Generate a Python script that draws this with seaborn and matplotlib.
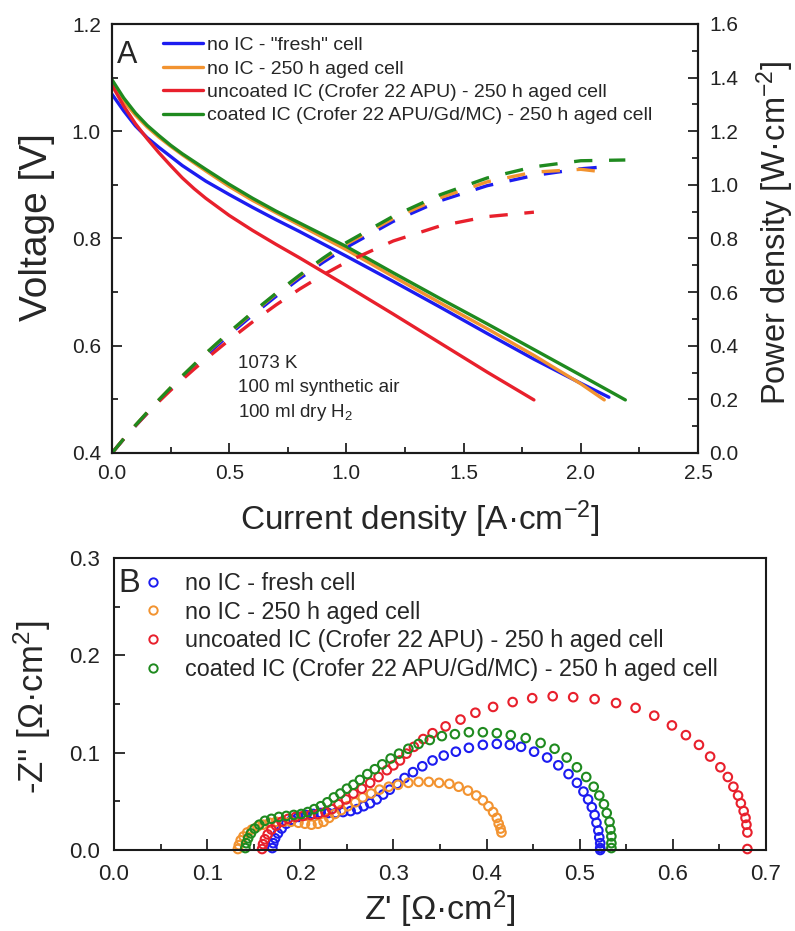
import numpy as np
import pandas as pd
import matplotlib
matplotlib.use("Agg")
import matplotlib.pyplot as plt
from matplotlib.lines import Line2D
from matplotlib.ticker import MultipleLocator, FormatStrFormatter
import seaborn as sns

sns.set_theme(style="white")
plt.rcParams["font.family"] = ["Liberation Sans", "DejaVu Sans"]
plt.rcParams["mathtext.fontset"] = "custom"
plt.rcParams["mathtext.rm"] = "Liberation Sans"
plt.rcParams["mathtext.it"] = "Liberation Sans:italic"
plt.rcParams["mathtext.bf"] = "Liberation Sans:bold"

# ---------------- data: I-V characteristics (panel A) ----------------
iv_labels = ['no IC - "fresh" cell',
             'no IC - 250 h aged cell',
             'uncoated IC (Crofer 22 APU) - 250 h aged cell',
             'coated IC (Crofer 22 APU/Gd/MC) - 250 h aged cell']
colors = ["#1c1cf0", "#f29330", "#e8202c", "#1f8a1f"]

j_fresh = [0, 0.05, 0.1, 0.15, 0.2, 0.3, 0.4, 0.5, 0.6, 0.7, 0.8, 0.9, 1.0,
           1.2, 1.4, 1.6, 1.8, 2.0, 2.12]
v_fresh = [1.069, 1.038, 1.010, 0.988, 0.970, 0.936, 0.907, 0.882, 0.858,
           0.835, 0.813, 0.790, 0.767, 0.720, 0.672, 0.623, 0.575, 0.530, 0.504]

j_aged = [0, 0.05, 0.1, 0.15, 0.2, 0.25, 0.3, 0.4, 0.5, 0.6, 0.7, 0.8, 0.9,
          1.0, 1.2, 1.4, 1.6, 1.8, 2.0, 2.1]
v_aged = [1.086, 1.056, 1.030, 1.008, 0.989, 0.972, 0.956, 0.926, 0.897,
          0.871, 0.848, 0.825, 0.802, 0.779, 0.729, 0.680, 0.632, 0.582,
          0.529, 0.499]

j_uncoated = [0, 0.05, 0.1, 0.15, 0.2, 0.25, 0.3, 0.35, 0.4, 0.5, 0.6, 0.7,
              0.8, 0.9, 1.0, 1.2, 1.4, 1.6, 1.8]
v_uncoated = [1.086, 1.047, 1.014, 0.986, 0.960, 0.936, 0.913, 0.893, 0.875,
              0.843, 0.815, 0.789, 0.764, 0.738, 0.712, 0.659, 0.605, 0.551, 0.499]

j_coated = [0, 0.05, 0.1, 0.15, 0.2, 0.25, 0.3, 0.4, 0.5, 0.6, 0.7, 0.8, 0.9,
            1.0, 1.2, 1.4, 1.6, 1.8, 2.0, 2.19]
v_coated = [1.096, 1.062, 1.034, 1.011, 0.992, 0.974, 0.958, 0.929, 0.901,
            0.875, 0.851, 0.829, 0.807, 0.785, 0.736, 0.688, 0.641, 0.593,
            0.545, 0.499]

iv_sets = [(j_fresh, v_fresh), (j_aged, v_aged),
           (j_uncoated, v_uncoated), (j_coated, v_coated)]

# ---------------- data: impedance spectra (panel B) ----------------
eis_labels = ['no IC - fresh cell',
              'no IC - 250 h aged cell',
              'uncoated IC (Crofer 22 APU) - 250 h aged cell',
              'coated IC (Crofer 22 APU/Gd/MC) - 250 h aged cell']

zre_fresh = [0.170, 0.171, 0.173, 0.176, 0.180, 0.185, 0.191, 0.198, 0.206,
             0.214, 0.222, 0.230, 0.238, 0.246, 0.254, 0.261, 0.268, 0.275,
             0.282, 0.289, 0.296, 0.304, 0.312, 0.321, 0.331, 0.342, 0.354,
             0.367, 0.381, 0.396, 0.411, 0.425, 0.437, 0.451, 0.465, 0.477,
             0.488, 0.497, 0.504, 0.509, 0.513, 0.516, 0.518, 0.520, 0.521,
             0.522, 0.522, 0.522]
zim_fresh = [0.002, 0.007, 0.012, 0.017, 0.022, 0.027, 0.031, 0.034, 0.036,
             0.037, 0.038, 0.038, 0.038, 0.039, 0.040, 0.042, 0.045, 0.048,
             0.052, 0.057, 0.062, 0.068, 0.074, 0.080, 0.086, 0.092, 0.097,
             0.101, 0.105, 0.108, 0.109, 0.108, 0.106, 0.101, 0.095, 0.087,
             0.078, 0.069, 0.060, 0.052, 0.044, 0.036, 0.028, 0.020, 0.013,
             0.007, 0.002, 0.000]

zre_aged = [0.133, 0.134, 0.136, 0.139, 0.143, 0.148, 0.154, 0.160, 0.167,
            0.174, 0.182, 0.190, 0.198, 0.205, 0.212, 0.219, 0.225, 0.231,
            0.237, 0.244, 0.251, 0.259, 0.267, 0.276, 0.285, 0.295, 0.305,
            0.316, 0.327, 0.338, 0.349, 0.360, 0.370, 0.380, 0.389, 0.396,
            0.402, 0.407, 0.411, 0.413, 0.415, 0.416]
zim_aged = [0.001, 0.005, 0.010, 0.014, 0.018, 0.021, 0.024, 0.026, 0.028,
            0.029, 0.029, 0.029, 0.028, 0.027, 0.026, 0.027, 0.029, 0.033,
            0.037, 0.041, 0.045, 0.049, 0.054, 0.058, 0.062, 0.065, 0.067,
            0.069, 0.070, 0.070, 0.069, 0.068, 0.065, 0.061, 0.056, 0.051,
            0.045, 0.039, 0.033, 0.027, 0.022, 0.018]

zre_uncoated = [0.159, 0.160, 0.162, 0.165, 0.169, 0.174, 0.180, 0.187, 0.195,
                0.203, 0.211, 0.219, 0.227, 0.234, 0.241, 0.249, 0.257, 0.266,
                0.275, 0.284, 0.293, 0.300, 0.307, 0.314, 0.322, 0.332, 0.342,
                0.356, 0.372, 0.388, 0.407, 0.428, 0.449, 0.471, 0.493, 0.516,
                0.539, 0.560, 0.580, 0.599, 0.614, 0.628, 0.640, 0.651, 0.659,
                0.665, 0.670, 0.673, 0.676, 0.678, 0.679, 0.680, 0.680]
zim_uncoated = [0.001, 0.006, 0.011, 0.016, 0.021, 0.025, 0.029, 0.032, 0.034,
                0.035, 0.036, 0.037, 0.039, 0.042, 0.047, 0.052, 0.058, 0.063,
                0.069, 0.075, 0.082, 0.087, 0.092, 0.099, 0.106, 0.114, 0.120,
                0.127, 0.134, 0.141, 0.147, 0.152, 0.156, 0.158, 0.157, 0.155,
                0.151, 0.146, 0.138, 0.128, 0.118, 0.108, 0.096, 0.085, 0.075,
                0.065, 0.056, 0.048, 0.040, 0.033, 0.026, 0.018, 0.001]

zre_coated = [0.141, 0.142, 0.144, 0.147, 0.151, 0.156, 0.162, 0.169, 0.177,
              0.185, 0.193, 0.201, 0.208, 0.215, 0.222, 0.229, 0.236, 0.243,
              0.250, 0.257, 0.264, 0.272, 0.280, 0.288, 0.297, 0.306, 0.316,
              0.327, 0.339, 0.352, 0.366, 0.381, 0.396, 0.411, 0.426, 0.442,
              0.458, 0.473, 0.486, 0.497, 0.507, 0.515, 0.521, 0.526, 0.529,
              0.532, 0.533, 0.534, 0.534, 0.534]
zim_coated = [0.002, 0.007, 0.012, 0.017, 0.022, 0.026, 0.030, 0.032, 0.034,
              0.035, 0.036, 0.037, 0.039, 0.042, 0.045, 0.049, 0.054, 0.058,
              0.063, 0.067, 0.072, 0.078, 0.083, 0.088, 0.094, 0.099, 0.104,
              0.109, 0.113, 0.117, 0.119, 0.121, 0.121, 0.120, 0.118, 0.115,
              0.110, 0.104, 0.095, 0.085, 0.075, 0.065, 0.056, 0.047, 0.038,
              0.029, 0.021, 0.014, 0.007, 0.002]

eis_sets = [(zre_fresh, zim_fresh), (zre_aged, zim_aged),
            (zre_uncoated, zim_uncoated), (zre_coated, zim_coated)]

# ---------------- figure ----------------
W, H = 795, 931
fig = plt.figure(figsize=(W / 100, H / 100), dpi=100)
fig.patch.set_facecolor("white")


def px_axes(left, top, right, bottom):
    return fig.add_axes([left / W, 1 - bottom / H, (right - left) / W, (bottom - top) / H])


axA = px_axes(112, 24, 698, 453)
axA2 = axA.twinx()
axB = px_axes(114, 558, 766, 850)

# ---- panel A: voltage (solid) and power density (dashed) ----
for (j, v), c, lab in zip(iv_sets, colors, iv_labels):
    df = pd.DataFrame({"j": j, "V": v})
    df["P"] = df["j"] * df["V"]
    sns.lineplot(data=df, x="j", y="V", ax=axA, color=c, lw=2.4,
                 sort=False, estimator=None, legend=False)
    sns.lineplot(data=df, x="j", y="P", ax=axA2, color=c, lw=2.4,
                 linestyle=(0, (5.5, 5)), sort=False, estimator=None, legend=False)

axA.set_xlim(0, 2.5)
axA.set_ylim(0.4, 1.2)
axA2.set_ylim(0, 1.6)
axA.xaxis.set_major_locator(MultipleLocator(0.5))
axA.xaxis.set_minor_locator(MultipleLocator(0.25))
axA.yaxis.set_major_locator(MultipleLocator(0.2))
axA.yaxis.set_minor_locator(MultipleLocator(0.1))
axA2.yaxis.set_major_locator(MultipleLocator(0.2))
axA2.yaxis.set_minor_locator(MultipleLocator(0.1))
for a in (axA, axA2):
    a.xaxis.set_major_formatter(FormatStrFormatter("%.1f"))
    a.yaxis.set_major_formatter(FormatStrFormatter("%.1f"))

axA.tick_params(which="both", direction="in", bottom=True, left=True,
                top=False, right=False, colors="#222222", labelsize=15, pad=8)
axA.tick_params(which="major", length=7, width=1.3)
axA.tick_params(which="minor", length=4, width=1.3)
axA2.tick_params(which="both", direction="in", right=True, left=False,
                 bottom=False, top=False, labelsize=15, pad=8, colors="#222222")
axA2.tick_params(which="major", length=7, width=1.3)
axA2.tick_params(which="minor", length=4, width=1.3)

axA.set_xlabel("Current density [A·cm$\\mathregular{^{-2}}$]", fontsize=24, va="center")
axA.xaxis.set_label_coords((420 - 112) / 586, (453 - 519) / 429)
axA.set_ylabel("Voltage [V]", fontsize=28, va="center")
axA.yaxis.set_label_coords((37 - 112) / 586, 1 - (227 - 24) / 429)
axA2.set_ylabel("Power density [W·cm$\\mathregular{^{-2}}$]", fontsize=23.5, va="center")
axA2.yaxis.set_label_coords((775 - 112) / 586, 1 - (233 - 24) / 429)

axA.text(0.008, 1 - (63 - 24) / 429, "A", transform=axA.transAxes,
         fontsize=22, va="baseline", ha="left")
cond = ["1073 K", "100 ml synthetic air", "100 ml dry H$\\mathregular{_2}$"]
for k, t in enumerate(cond):
    axA.text((238 - 112) / 586, 1 - (368 + 24.5 * k - 24) / 429, t,
             transform=axA.transAxes, fontsize=13.5, va="baseline", ha="left")

handlesA = [Line2D([], [], color=c, lw=2.4) for c in colors]
legA = axA2.legend(handlesA, iv_labels, loc="upper left",
                   bbox_to_anchor=((163 - 112) / 586, 1 - (36.5 - 24) / 429),
                   frameon=False, fontsize=14, handlelength=2.06,
                   handletextpad=0.2, labelspacing=0.30, borderpad=0,
                   borderaxespad=0)

# ---- panel B: Nyquist plots ----
for (zr, zi), c in zip(eis_sets, colors):
    sns.scatterplot(x=zr, y=zi, ax=axB, color=c, s=38, marker="o",
                    linewidth=1.5, legend=False, clip_on=False)
    pts = axB.collections[-1]
    pts.set_facecolor("none")
    pts.set_edgecolor(c)

axB.set_xlim(0, 0.7)
axB.set_ylim(0, 0.3)
axB.xaxis.set_major_locator(MultipleLocator(0.1))
axB.xaxis.set_minor_locator(MultipleLocator(0.05))
axB.yaxis.set_major_locator(MultipleLocator(0.1))
axB.yaxis.set_minor_locator(MultipleLocator(0.05))
axB.xaxis.set_major_formatter(FormatStrFormatter("%.1f"))
axB.yaxis.set_major_formatter(FormatStrFormatter("%.1f"))
axB.tick_params(which="both", direction="in", bottom=True, left=True,
                top=False, right=False, labelsize=16, pad=10, colors="#222222")
axB.tick_params(which="major", length=8, width=1.3)
axB.tick_params(which="minor", length=4, width=1.3)

axB.set_xlabel("Z' [Ω·cm$\\mathregular{^2}$]", fontsize=24.5, va="center")
axB.xaxis.set_label_coords(0.5, (850 - 909) / 292)
axB.set_ylabel("-Z'' [Ω·cm$\\mathregular{^2}$]", fontsize=25, va="center")
axB.yaxis.set_label_coords((32 - 114) / 652, (850 - 707) / 292)

axB.text(0.006, (850 - 592) / 292, "B", transform=axB.transAxes,
         fontsize=23.5, va="baseline", ha="left")

handlesB = [Line2D([], [], ls="", marker="o", markersize=6, mfc="none",
                   mec=c, mew=1.4) for c in colors]
axB.legend(handlesB, eis_labels, loc="upper left",
           bbox_to_anchor=((142 - 114) / 652, (850 - 572) / 292),
           frameon=False, fontsize=16.8, handlelength=0.95, handletextpad=0.9,
           labelspacing=0.24, borderpad=0, borderaxespad=0)

for a in (axA, axA2, axB):
    for s in a.spines.values():
        s.set_color("#1a1a1a")
        s.set_linewidth(1.5)
        s.set_visible(True)
axA.set_zorder(1)
axA2.set_zorder(2)
axA2.patch.set_visible(False)

fig.savefig("out.png", dpi=100, facecolor="white")
